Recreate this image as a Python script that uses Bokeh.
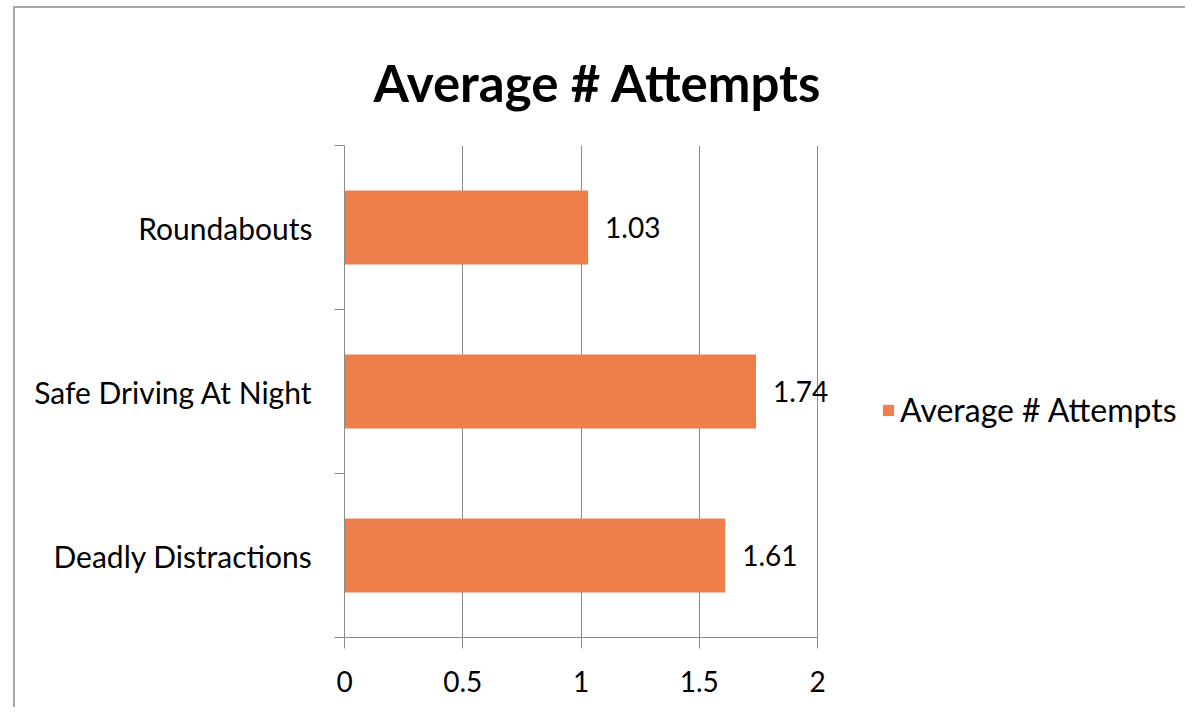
from bokeh.plotting import figure
from bokeh.models import (ColumnDataSource, FixedTicker, Legend, LegendItem,
                          LabelSet, Title)
from bokeh.core.properties import value
from bokeh.embed import file_html
from bokeh.resources import INLINE

# ---- data ----
categories = ["Deadly Distractions", "Safe Driving At Night", "Roundabouts"]
values = [1.61, 1.74, 1.03]
value_labels = ["1.61", "1.74", "1.03"]
x_ticks = [0, 0.5, 1, 1.5, 2]
x_tick_labels = ["0", "0.5", "1", "1.5", "2"]
title_text = "Average # Attempts"
series_name = "Average # Attempts"

FONT = "Lato"
BAR = "#EE7F4B"
GRID = "#8A8A8A"

ypos = [i + 0.5 for i in range(len(categories))]
src = ColumnDataSource(dict(y=ypos, v=values, lab=value_labels, cat=categories))

# figure host gets a 2px border and a margin so its content starts at (15, 8)
OX, OY = 15, 8
W, H = 1187 - OX, 709 - OY
AX0, AX2 = 344, 817          # window x of value 0 and value 2 (axis extent)
FR_WIN = 1180                # frame extends right to hold the legend
FL, FR, FT, FB = AX0 - OX, FR_WIN - OX, 145 - OY, 637 - OY
x_max = x_ticks[-1]
x_end = x_max * (FR_WIN - AX0) / (AX2 - AX0)

p = figure(width=W, height=H, output_backend="svg", toolbar_location=None,
           x_range=(0, x_end), y_range=(0, len(categories)),
           min_border_left=FL, min_border_right=W - FR,
           min_border_top=FT, min_border_bottom=H - FB,
           margin=(6, 0, 0, 13),
           styles={"border-left": "2px solid #A6A6A6",
                   "border-top": "2px solid #A6A6A6"})
p.outline_line_color = None
p.background_fill_color = "white"
p.border_fill_color = "white"

bars = p.hbar(y="y", right="v", left=0, height=0.45, source=src,
              fill_color=BAR, line_color=None)

# value labels
p.add_layout(LabelSet(x="v", y="y", text="lab", source=src, x_offset=17,
                      text_align="left", text_baseline="middle",
                      text_font=value(FONT), text_font_size="28px",
                      text_color="black"))

# x axis
xa = p.xaxis[0]
xa.bounds = (0, x_max)
xa.ticker = FixedTicker(ticks=x_ticks)
xa.major_label_overrides = {t: l for t, l in zip(x_ticks, x_tick_labels)}
xa.axis_line_color = GRID
xa.major_tick_line_color = GRID
xa.major_tick_out = 11
xa.major_tick_in = 0
xa.minor_tick_line_color = None
xa.major_label_standoff = 22
xa.major_label_text_font = FONT
xa.major_label_text_font_size = "28px"
xa.major_label_text_color = "black"

# y axis: labels at centres, ticks at category boundaries
ya = p.yaxis[0]
ya.ticker = FixedTicker(ticks=ypos, minor_ticks=list(range(len(categories) + 1)))
ya.major_label_overrides = {y: c for y, c in zip(ypos, categories)}
ya.axis_line_color = GRID
ya.major_tick_line_color = None
ya.major_tick_out = 0
ya.major_tick_in = 0
ya.minor_tick_line_color = GRID
ya.minor_tick_out = 10
ya.minor_tick_in = 0
ya.major_label_standoff = 22
ya.major_label_text_font = FONT
ya.major_label_text_font_size = "30px"
ya.major_label_text_color = "black"

# grids
p.xgrid.ticker = FixedTicker(ticks=x_ticks)
p.xgrid.bounds = (0, x_max)
p.xgrid.grid_line_color = GRID
p.xgrid.grid_line_width = 1
p.ygrid.grid_line_color = None

# title
p.add_layout(Title(text=title_text, align="left", offset=373 - AX0,
                   standoff=65, text_font=FONT, text_font_style="bold",
                   text_font_size="51px", text_color="black"), "above")

# legend (inside the widened frame, right of the axis area)
legend = Legend(items=[LegendItem(label=series_name, renderers=[bars])],
                location=(881 - AX0, 208), orientation="vertical",
                glyph_width=14, glyph_height=14, label_standoff=5,
                padding=0, margin=0, spacing=0,
                border_line_color=None, background_fill_alpha=0,
                label_text_font=FONT, label_text_font_size="32px",
                label_text_color="black")
p.add_layout(legend, "center")

open("out.html", "w").write(file_html(p, INLINE))
